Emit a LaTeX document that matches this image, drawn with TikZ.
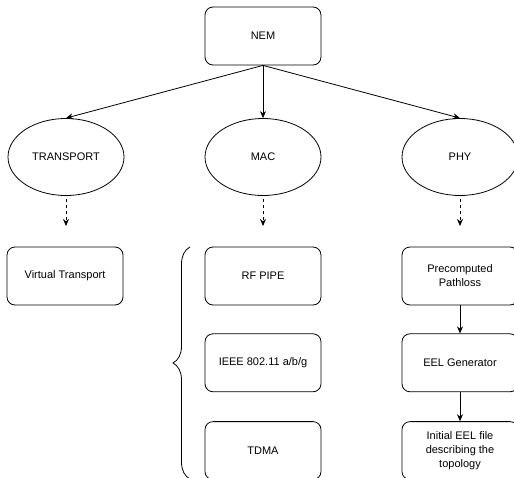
\documentclass[tikz,border=0pt]{standalone}
\usepackage{fontspec}
\setmainfont{Liberation Sans}
\usetikzlibrary{positioning,shapes.geometric,arrows.meta,decorations.pathreplacing}

\begin{document}
\begin{tikzpicture}[x=1pt,y=-1pt,>={Stealth[length=7pt,width=6pt]},
    box/.style={draw,rounded corners=8pt,minimum width=116pt,minimum height=58pt,align=center,line width=0.8pt},
    oval/.style={draw,ellipse,minimum width=116pt,minimum height=77pt,inner sep=0pt,line width=0.8pt},
    font=\fontsize{11}{14}\selectfont]
      \useasboundingbox (0,0) rectangle (514,477);

      \node [box] (nem) at (263,36) {NEM};
      \node [oval] (transport) at (66,157) {TRANSPORT};
      \node [oval] (mac) at (263,157) {MAC};
      \node [oval] (phy) at (460,157) {PHY};

      \draw[->,line width=0.8pt] (nem.south) -- (transport.north);
      \draw[->,line width=0.8pt] (nem.south) -- (mac.north);
      \draw[->,line width=0.8pt] (nem.south) -- (phy.north);

      % dashed hints below the layers
      \coordinate (t-end) at (66,226);
      \coordinate (m-end) at (263,226);
      \coordinate (p-end) at (460,226);
      \draw[->,dashed,line width=0.8pt,shorten <=3pt] (transport.south) -- (t-end);
      \draw[->,dashed,line width=0.8pt,shorten <=3pt] (mac.south) -- (m-end);
      \draw[->,dashed,line width=0.8pt,shorten <=3pt] (phy.south) -- (p-end);

      \node [box] (virtual) at (65,276) {Virtual Transport};

      \node [box] (rfpipe) at (263,276) {RF PIPE};
      \node [box,below=28pt of rfpipe] (ieee) {IEEE 802.11 a/b/g};
      \node [box,below=29pt of ieee] (tdma) {TDMA};

      \node [box] (pathloss) at (460,276) {Precomputed\\Pathloss};
      \node [box,below=28pt of pathloss] (eel) {EEL Generator};
      \node [box,below=29pt of eel] (initial) {Initial EEL file\\describing the\\topology};

      \draw[->,line width=0.8pt] (pathloss) -- (eel);
      \draw[->,line width=0.8pt] (eel) -- (initial);

      \coordinate (brace-bot) at (190,479);
      \coordinate (brace-top) at (190,247);
      \draw[line width=0.8pt,decorate,decoration={brace,amplitude=17pt}] (brace-bot) -- (brace-top);
    \end{tikzpicture}
\end{document}
